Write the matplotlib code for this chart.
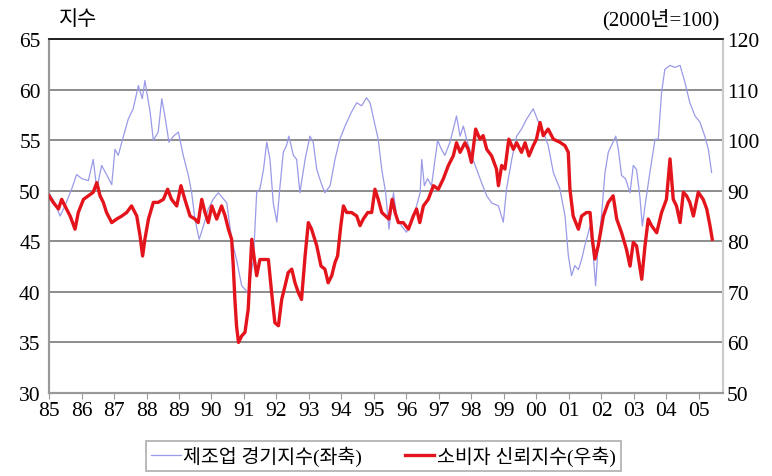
import numpy as np
import matplotlib
matplotlib.use("Agg")
import matplotlib.pyplot as plt

plt.rcParams['font.family'] = ['Liberation Serif', 'Noto Sans CJK KR', 'DejaVu Sans']

# 제조업 경기지수 (left axis)
mfg_year = [1985.00, 1985.18, 1985.34, 1985.49, 1985.70, 1985.85, 1986.01, 1986.21, 1986.36, 1986.47,
            1986.62, 1986.77, 1986.93, 1987.03, 1987.13, 1987.29, 1987.44, 1987.59, 1987.75, 1987.87,
            1987.95, 1988.11, 1988.21, 1988.36, 1988.47, 1988.57, 1988.69, 1988.83, 1988.98, 1989.13,
            1989.29, 1989.39, 1989.49, 1989.62, 1989.75, 1989.90, 1990.06, 1990.21, 1990.47, 1990.62,
            1990.77, 1990.93, 1991.13, 1991.29, 1991.39, 1991.49, 1991.60, 1991.70, 1991.80, 1991.90,
            1992.01, 1992.11, 1992.21, 1992.31, 1992.38, 1992.52, 1992.62, 1992.72, 1992.88, 1993.03,
            1993.13, 1993.24, 1993.37, 1993.49, 1993.65, 1993.80, 1993.95, 1994.11, 1994.31, 1994.47,
            1994.62, 1994.77, 1994.88, 1995.01, 1995.13, 1995.24, 1995.36, 1995.46, 1995.60, 1995.70,
            1995.85, 1996.00, 1996.16, 1996.31, 1996.42, 1996.47, 1996.55, 1996.65, 1996.77, 1996.88,
            1996.96, 1997.06, 1997.18, 1997.34, 1997.44, 1997.54, 1997.65, 1997.75, 1997.85, 1998.00,
            1998.16, 1998.31, 1998.47, 1998.62, 1998.83, 1998.98, 1999.08, 1999.24, 1999.39, 1999.54,
            1999.70, 1999.90, 2000.06, 2000.21, 2000.36, 2000.52, 2000.72, 2000.88, 2000.98, 2001.08,
            2001.18, 2001.29, 2001.39, 2001.49, 2001.65, 2001.75, 2001.82, 2001.90, 2002.00, 2002.11,
            2002.21, 2002.31, 2002.44, 2002.52, 2002.62, 2002.74, 2002.88, 2002.98, 2003.08, 2003.18,
            2003.26, 2003.34, 2003.49, 2003.65, 2003.75, 2003.85, 2003.95, 2004.11, 2004.26, 2004.42,
            2004.57, 2004.72, 2004.88, 2005.03, 2005.18, 2005.29, 2005.39]
mfg_val = [49.8, 48.8, 47.5, 48.5, 50.2, 51.6, 51.2, 51.0, 53.1, 50.2,
           52.5, 51.6, 50.6, 54.1, 53.5, 55.4, 57.1, 58.1, 60.4, 59.1,
           60.9, 57.8, 55.0, 55.8, 59.1, 57.3, 54.8, 55.4, 55.8, 53.5,
           51.5, 49.8, 47.2, 45.2, 46.5, 48.2, 49.2, 49.8, 48.8, 45.2,
           43.2, 40.6, 39.9, 43.2, 49.8, 50.2, 52.1, 54.8, 53.1, 48.8,
           46.9, 50.5, 53.8, 54.5, 55.4, 53.5, 53.1, 49.8, 53.1, 55.4,
           54.8, 52.1, 50.8, 49.8, 50.5, 53.1, 55.1, 56.4, 57.8, 58.7,
           58.4, 59.2, 58.7, 56.8, 55.1, 52.1, 49.8, 46.2, 49.8, 47.5,
           46.5, 45.9, 46.9, 48.5, 49.8, 53.1, 50.5, 51.2, 50.5, 53.1,
           55.0, 54.2, 53.5, 54.8, 56.1, 57.4, 55.4, 56.4, 55.1, 53.5,
           52.1, 50.8, 49.5, 48.8, 48.5, 46.9, 50.2, 53.1, 55.4, 56.1,
           57.1, 58.1, 56.8, 55.8, 54.5, 51.8, 50.2, 47.5, 43.6, 41.6,
           42.6, 42.2, 43.2, 44.6, 46.5, 43.6, 40.6, 44.6, 47.5, 51.8,
           53.8, 54.5, 55.4, 54.1, 51.5, 51.2, 49.8, 52.5, 52.1, 49.5,
           46.5, 48.5, 51.8, 55.1, 55.1, 59.7, 62.0, 62.4, 62.2, 62.4,
           60.7, 58.7, 57.4, 56.8, 55.4, 54.1, 51.8]

# 소비자 신뢰지수 (right axis)
cons_year = [1985.00, 1985.13, 1985.29, 1985.39, 1985.49, 1985.65, 1985.80, 1985.90, 1986.06, 1986.21,
             1986.36, 1986.47, 1986.57, 1986.67, 1986.77, 1986.93, 1987.08, 1987.24, 1987.39, 1987.54,
             1987.70, 1987.80, 1987.88, 1987.95, 1988.06, 1988.21, 1988.36, 1988.52, 1988.65, 1988.77,
             1988.93, 1989.06, 1989.18, 1989.34, 1989.49, 1989.59, 1989.70, 1989.80, 1989.90, 1990.01,
             1990.16, 1990.31, 1990.42, 1990.52, 1990.62, 1990.67, 1990.72, 1990.77, 1990.83, 1990.93,
             1991.03, 1991.13, 1991.18, 1991.24, 1991.32, 1991.39, 1991.49, 1991.65, 1991.75, 1991.85,
             1991.95, 1992.06, 1992.16, 1992.26, 1992.36, 1992.47, 1992.57, 1992.67, 1992.77, 1992.88,
             1992.98, 1993.08, 1993.24, 1993.37, 1993.49, 1993.59, 1993.70, 1993.80, 1993.88, 1993.98,
             1994.06, 1994.16, 1994.31, 1994.47, 1994.57, 1994.67, 1994.81, 1994.93, 1995.03, 1995.13,
             1995.24, 1995.36, 1995.46, 1995.56, 1995.65, 1995.75, 1995.90, 1996.06, 1996.21, 1996.31,
             1996.41, 1996.52, 1996.67, 1996.83, 1996.98, 1997.13, 1997.29, 1997.44, 1997.54, 1997.65,
             1997.80, 1997.90, 1998.00, 1998.13, 1998.26, 1998.36, 1998.47, 1998.62, 1998.77, 1998.83,
             1998.93, 1999.03, 1999.15, 1999.29, 1999.39, 1999.54, 1999.65, 1999.77, 1999.90, 2000.00,
             2000.11, 2000.21, 2000.36, 2000.52, 2000.72, 2000.88, 2000.98, 2001.03, 2001.13, 2001.29,
             2001.39, 2001.54, 2001.65, 2001.72, 2001.80, 2001.90, 2002.06, 2002.21, 2002.36, 2002.47,
             2002.62, 2002.77, 2002.88, 2002.98, 2003.08, 2003.24, 2003.34, 2003.44, 2003.54, 2003.70,
             2003.85, 2004.00, 2004.11, 2004.21, 2004.31, 2004.42, 2004.52, 2004.62, 2004.72, 2004.83,
             2004.98, 2005.13, 2005.24, 2005.34, 2005.41]
cons_val = [89.0, 87.7, 86.4, 88.3, 87.0, 85.0, 82.4, 85.7, 88.3, 89.0,
            89.7, 91.6, 89.0, 87.7, 85.7, 83.7, 84.4, 85.0, 85.7, 87.0,
            85.0, 81.1, 77.1, 80.4, 84.4, 87.7, 87.7, 88.3, 90.3, 88.3,
            87.0, 91.0, 88.3, 85.0, 84.4, 83.7, 88.3, 85.7, 83.7, 87.0,
            84.4, 87.0, 85.0, 82.4, 80.4, 75.1, 68.5, 63.3, 60.0, 61.3,
            62.0, 66.6, 73.2, 80.4, 76.4, 73.2, 76.4, 76.4, 76.4, 69.9,
            63.9, 63.3, 68.5, 71.1, 73.8, 74.5, 71.8, 69.9, 68.5, 77.1,
            83.7, 82.4, 79.1, 75.1, 74.5, 71.8, 73.2, 75.8, 77.1, 83.1,
            87.0, 85.7, 85.7, 85.0, 83.1, 84.4, 85.7, 85.7, 90.3, 88.3,
            85.7, 85.0, 84.4, 88.3, 85.7, 83.7, 83.7, 82.4, 85.0, 86.4,
            83.7, 87.0, 88.3, 91.0, 90.3, 92.3, 95.0, 96.9, 99.5, 97.6,
            99.5, 98.2, 95.6, 102.2, 100.2, 100.9, 98.2, 96.9, 94.3, 91.0,
            95.0, 94.3, 100.2, 98.2, 99.5, 97.6, 99.5, 96.9, 98.9, 100.2,
            103.5, 100.9, 102.2, 100.2, 99.6, 98.9, 97.6, 90.3, 85.0, 82.4,
            85.0, 85.7, 85.7, 80.4, 76.5, 79.1, 85.0, 87.7, 89.0, 84.4,
            81.7, 78.4, 75.1, 79.8, 79.1, 72.5, 79.1, 84.4, 83.1, 81.7,
            85.7, 88.3, 96.3, 88.3, 87.0, 83.7, 89.7, 89.0, 87.7, 85.0,
            89.7, 88.3, 86.4, 83.1, 80.4]

year_ticks = list(range(1985, 2006))
year_labels = ["%02d" % (y % 100) for y in year_ticks]

fig = plt.figure(figsize=(7.72, 4.77), dpi=100)
ax = fig.add_axes([0.0635, 0.174, 0.873, 0.742])
ax2 = ax.twinx()

ax.set_xlim(1985, 2005.74)
ax.set_ylim(30, 65)
ax2.set_ylim(50, 120)
ax.set_yticks(np.arange(30, 66, 5))
ax2.set_yticks(np.arange(50, 121, 10))

for v in np.arange(35, 65, 5):
    ax.axhline(v, color='#8c8c8c', lw=1.4, zorder=0)

l1, = ax.plot(mfg_year, mfg_val, color='#9a9ae8', lw=0.9, zorder=2)
l2, = ax2.plot(cons_year, cons_val, color='#e4141c', lw=2.4, zorder=3)

ax.set_xticks(year_ticks)
ax.set_xticklabels(year_labels)
ax.tick_params(axis='x', direction='out', length=4, color='#999999', labelsize=15.5, pad=2)
ax.tick_params(axis='y', length=0, labelsize=15.5, pad=6)
ax2.tick_params(axis='y', length=0, labelsize=15.5, pad=3)

for a in (ax, ax2):
    a.spines['top'].set_color('#222222')
    a.spines['top'].set_linewidth(1.3)
    a.spines['left'].set_color('#999999')
    a.spines['left'].set_linewidth(1.5)
    a.spines['bottom'].set_color('#999999')
    a.spines['bottom'].set_linewidth(1.5)
    a.spines['right'].set_color('#cccccc')
    a.spines['right'].set_linewidth(1.5)

fig.text(0.077, 0.958, "지수", fontsize=15, ha='left', va='center')
fig.text(0.932, 0.958, "(2000년=100)", fontsize=15, ha='right', va='center')

leg = fig.legend([l1, l2], ["제조업 경기지수(좌축)", "소비자 신뢰지수(우축)"],
                 loc='center', bbox_to_anchor=(0.497, 0.042), ncol=2, fontsize=14,
                 frameon=True, fancybox=False, edgecolor='#999999',
                 handlelength=1.5, handletextpad=0.15, columnspacing=2.2,
                 borderpad=0.25)
leg.get_frame().set_linewidth(1.2)

fig.savefig("out.png", dpi=100)
